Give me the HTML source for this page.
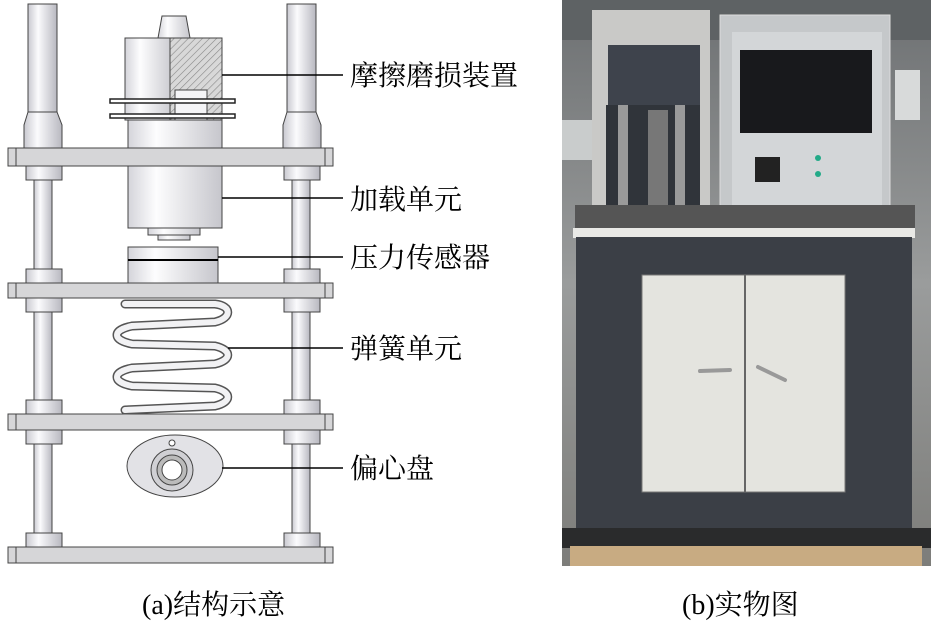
<!DOCTYPE html>
<html><head><meta charset="utf-8"><style>
body{margin:0;background:#fff;}
svg{display:block}
text{font-family:"Liberation Serif","Noto Serif CJK SC","Noto Serif CJK JP",serif;fill:#000}
</style></head><body>
<svg width="931" height="626" viewBox="0 0 931 626" xmlns="http://www.w3.org/2000/svg">
<defs>
<linearGradient id="rod" x1="0" x2="1"><stop offset="0" stop-color="#c9c9d0"/><stop offset=".35" stop-color="#fbfbfd"/><stop offset="1" stop-color="#b8b8c0"/></linearGradient>
<linearGradient id="cyl" x1="0" x2="1"><stop offset="0" stop-color="#d4d4da"/><stop offset=".3" stop-color="#fdfdfe"/><stop offset="1" stop-color="#c6c6cc"/></linearGradient>
<pattern id="hatch" width="5" height="5" patternUnits="userSpaceOnUse" patternTransform="rotate(45)"><rect width="5" height="5" fill="#d8d8d8"/><line x1="0" y1="0" x2="0" y2="5" stroke="#888" stroke-width="1.2"/></pattern>
<linearGradient id="bg" x1="0" y1="0" x2="0" y2="1"><stop offset="0" stop-color="#6d7072"/><stop offset=".5" stop-color="#9a9c9c"/><stop offset="1" stop-color="#7d7d7a"/></linearGradient>
</defs>
<g stroke="#444" stroke-width="1">
<rect x="34" y="120" width="18" height="430" fill="url(#rod)"/>
<rect x="292" y="120" width="18" height="430" fill="url(#rod)"/>
<rect x="28" y="4" width="29" height="116" fill="url(#rod)"/>
<rect x="287" y="4" width="29" height="116" fill="url(#rod)"/>
<path d="M28 112 L24 125 L24 148 L62 148 L62 125 L57 112Z" fill="url(#rod)"/>
<path d="M287 112 L283 125 L283 148 L321 148 L321 125 L316 112Z" fill="url(#rod)"/>
<rect x="26" y="166" width="36" height="14" fill="url(#rod)"/><rect x="284" y="166" width="36" height="14" fill="url(#rod)"/>
<rect x="26" y="269" width="36" height="14" fill="url(#rod)"/><rect x="284" y="269" width="36" height="14" fill="url(#rod)"/>
<rect x="26" y="298" width="36" height="14" fill="url(#rod)"/><rect x="284" y="298" width="36" height="14" fill="url(#rod)"/>
<rect x="26" y="400" width="36" height="14" fill="url(#rod)"/><rect x="284" y="400" width="36" height="14" fill="url(#rod)"/>
<rect x="26" y="430" width="36" height="14" fill="url(#rod)"/><rect x="284" y="430" width="36" height="14" fill="url(#rod)"/>
<rect x="26" y="533" width="36" height="14" fill="url(#rod)"/><rect x="284" y="533" width="36" height="14" fill="url(#rod)"/>
<path d="M158 38 L162 16 L186 16 L190 38Z" fill="url(#cyl)"/>
<rect x="125" y="38" width="50" height="82" fill="url(#cyl)"/>
<rect x="170" y="38" width="52" height="82" fill="url(#hatch)"/>
<rect x="175" y="90" width="32" height="30" fill="#f4f4f6"/>
<rect x="110" y="99" width="125" height="4" fill="#fff" stroke="#222" stroke-width="1.5"/>
<rect x="110" y="114" width="125" height="4" fill="#fff" stroke="#222" stroke-width="1.5"/>
<rect x="128" y="120" width="94" height="108" fill="url(#cyl)"/>
<rect x="148" y="228" width="52" height="7" fill="url(#cyl)"/>
<rect x="158" y="235" width="32" height="5" fill="url(#cyl)"/>
<rect x="128" y="247" width="90" height="36" fill="url(#cyl)"/>
<rect x="8" y="148" width="325" height="18" fill="#d6d6d8"/>
<rect x="8" y="283" width="325" height="15" fill="#d6d6d8"/>
<rect x="8" y="414" width="325" height="16" fill="#d6d6d8"/>
<rect x="8" y="547" width="325" height="16" fill="#d6d6d8"/>
<line x1="16" y1="148" x2="16" y2="166"/><line x1="325" y1="148" x2="325" y2="166"/>
<line x1="16" y1="283" x2="16" y2="298"/><line x1="325" y1="283" x2="325" y2="298"/>
<line x1="16" y1="414" x2="16" y2="430"/><line x1="325" y1="414" x2="325" y2="430"/>
<line x1="16" y1="547" x2="16" y2="563"/><line x1="325" y1="547" x2="325" y2="563"/>
</g>
<line x1="128" y1="260" x2="218" y2="260" stroke="#000" stroke-width="2"/>
<g fill="none" stroke-linecap="round">
<path d="M125 304 L215 304 C 232 306, 232 318, 215 322 L132 326 C 112 330, 112 340, 132 344 L215 346 C 232 350, 232 360, 215 364 L132 368 C 112 372, 112 382, 132 386 L215 388 C 232 392, 232 402, 215 406 L125 410" stroke="#555" stroke-width="9"/>
<path d="M125 304 L215 304 C 232 306, 232 318, 215 322 L132 326 C 112 330, 112 340, 132 344 L215 346 C 232 350, 232 360, 215 364 L132 368 C 112 372, 112 382, 132 386 L215 388 C 232 392, 232 402, 215 406 L125 410" stroke="#f2f2f4" stroke-width="6"/>
</g>
<ellipse cx="175" cy="466" rx="48" ry="31" fill="#e2e2e6" stroke="#444"/>
<circle cx="172" cy="470" r="21" fill="#d0d0d4" stroke="#444"/>
<circle cx="172" cy="470" r="15" fill="#bbb" stroke="#444"/>
<circle cx="172" cy="470" r="10" fill="#fff" stroke="#444"/>
<circle cx="172" cy="443" r="3" fill="#fff" stroke="#444"/>
<g stroke="#000" stroke-width="1.5">
<line x1="222" y1="75" x2="343" y2="75"/>
<line x1="222" y1="198" x2="343" y2="198"/>
<line x1="218" y1="257" x2="343" y2="257"/>
<line x1="228" y1="348" x2="343" y2="348"/>
<line x1="222" y1="468" x2="343" y2="468"/>
</g>
<g font-size="28">
<text x="350" y="85">摩擦磨损装置</text>
<text x="350" y="209">加载单元</text>
<text x="350" y="267">压力传感器</text>
<text x="350" y="358">弹簧单元</text>
<text x="350" y="478">偏心盘</text>
<text x="142" y="614">(a)结构示意</text>
<text x="682" y="614">(b)实物图</text>
</g>
<rect x="562" y="0" width="369" height="566" fill="url(#bg)"/>
<rect x="562" y="0" width="369" height="40" fill="#5e6264"/>
<rect x="562" y="120" width="30" height="40" fill="#c9cccc"/>
<rect x="895" y="70" width="25" height="50" fill="#d8dada"/>
<rect x="592" y="10" width="118" height="215" fill="#c9c9c7"/>
<rect x="608" y="45" width="92" height="60" fill="#3e434c"/>
<rect x="606" y="105" width="94" height="120" fill="#30343a"/>
<rect x="618" y="105" width="10" height="100" fill="#9a9a9a"/>
<rect x="675" y="105" width="10" height="100" fill="#9a9a9a"/>
<rect x="648" y="110" width="20" height="100" fill="#777"/>
<rect x="720" y="15" width="170" height="207" fill="#c5c8ca" stroke="#ddd"/>
<rect x="732" y="32" width="150" height="176" fill="#d3d6d8"/>
<rect x="740" y="50" width="132" height="83" fill="#18191c"/>
<rect x="755" y="157" width="25" height="25" fill="#222"/>
<circle cx="818" cy="158" r="3" fill="#2a8"/><circle cx="818" cy="174" r="3" fill="#2a8"/>
<rect x="575" y="205" width="340" height="30" fill="#555"/>
<rect x="573" y="228" width="342" height="10" fill="#e9e9e6"/>
<rect x="576" y="237" width="336" height="292" fill="#3b3f46"/>
<rect x="642" y="275" width="203" height="217" fill="#e4e4df" stroke="#777"/>
<line x1="745" y1="275" x2="745" y2="492" stroke="#666" stroke-width="2"/>
<line x1="700" y1="371" x2="730" y2="370" stroke="#999" stroke-width="4" stroke-linecap="round"/>
<line x1="758" y1="367" x2="785" y2="380" stroke="#999" stroke-width="4" stroke-linecap="round"/>
<rect x="562" y="528" width="369" height="20" fill="#2a2b2c"/>
<rect x="570" y="546" width="352" height="20" fill="#c8ab82"/>
</svg>
</body></html>
